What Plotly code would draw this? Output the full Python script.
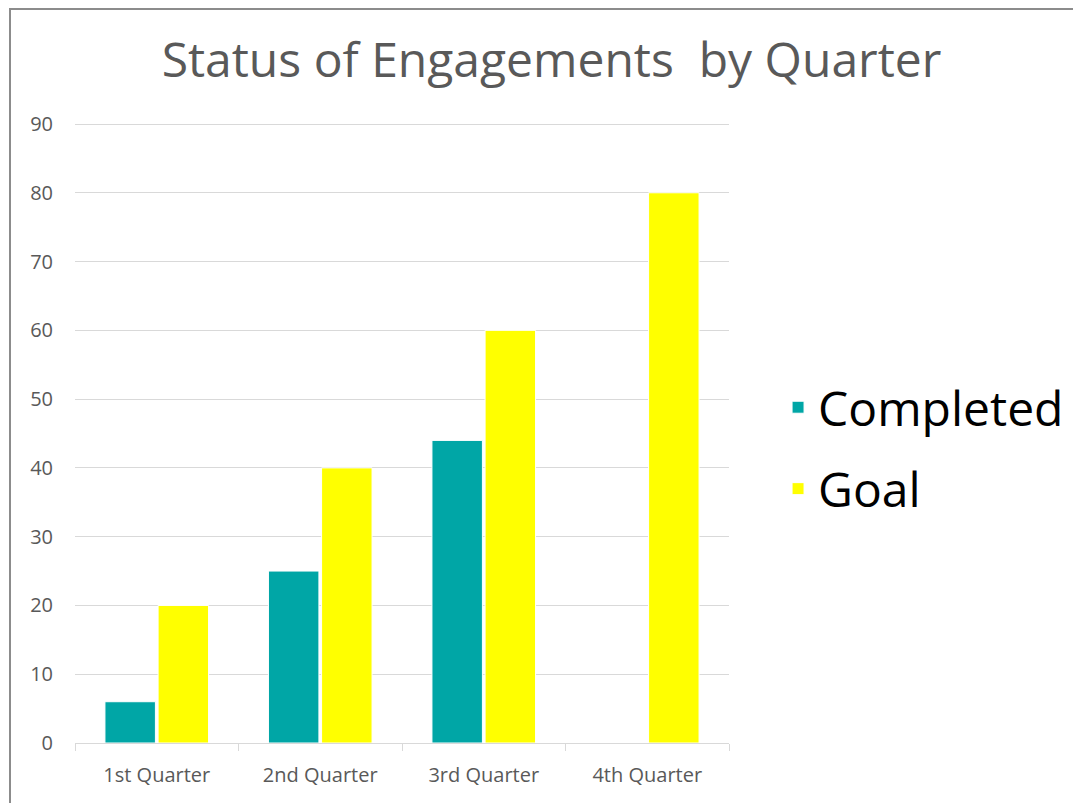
import plotly.graph_objects as go

categories = ["1st Quarter", "2nd Quarter", "3rd Quarter", "4th Quarter"]
completed = [6, 25, 44, None]
goal = [20, 40, 60, 80]
y_ticks = [0, 10, 20, 30, 40, 50, 60, 70, 80, 90]

TEAL = "#00A6A6"
YELLOW = "#FFFF00"
GRAY_TEXT = "#595959"
GRID = "#D9D9D9"

# page body has an 8px margin; size figure so it fits the 1081x803 window
W, H = 1073, 795
L, T = 67, 114
R, B = 352, 60

fig = go.Figure()
fig.add_trace(go.Bar(name="Completed", x=categories, y=completed,
                     marker=dict(color=TEAL, line=dict(color="white", width=1)),
                     legendgroup="a"))
fig.add_trace(go.Bar(name="Goal", x=categories, y=goal,
                     marker=dict(color=YELLOW, line=dict(color="white", width=1)),
                     legendgroup="b"))

plot_w = W - L - R
plot_h = H - T - B
y_top = 90 + 2 * 90 / (plot_h - 2)

fig.update_layout(
    width=W, height=H,
    margin=dict(l=L, r=R, t=T, b=B),
    paper_bgcolor="white", plot_bgcolor="white",
    font=dict(family="Open Sans, Segoe UI, sans-serif", color=GRAY_TEXT),
    title=dict(text="Status of Engagements&nbsp; by Quarter",
               x=(551.5 - 8) / W, xanchor="center",
               y=1 - (60 - 8) / H, yanchor="middle",
               font=dict(size=48, color=GRAY_TEXT, family="Open Sans")),
    barmode="group", bargap=0.35, bargroupgap=0.05,
    showlegend=True,
    legend=dict(x=1.075, xanchor="left", y=0.475, yanchor="middle",
                font=dict(size=48, color="black", family="Open Sans"),
                tracegroupgap=16, bgcolor="rgba(0,0,0,0)"),
    xaxis=dict(showline=True, linecolor=GRID, linewidth=1, ticks="outside",
               tickson="boundaries", ticklen=7, tickcolor=GRID,
               tickfont=dict(size=20, color=GRAY_TEXT), showgrid=False,
               ticklabelstandoff=14),
    yaxis=dict(range=[0, y_top], tickvals=y_ticks, showgrid=True, gridcolor=GRID,
               gridwidth=1, zeroline=False, showline=False, ticks="",
               tickfont=dict(size=20, color=GRAY_TEXT), ticklabelstandoff=21),
    shapes=[dict(type="rect", xref="paper", yref="paper",
                 x0=(2 - L) / plot_w, x1=1.7,
                 y0=-0.3, y1=1 + (T - 1) / plot_h,
                 line=dict(color="#8C8C8C", width=2),
                 fillcolor="rgba(0,0,0,0)", layer="below")],
)

fig.write_html("out.html")
